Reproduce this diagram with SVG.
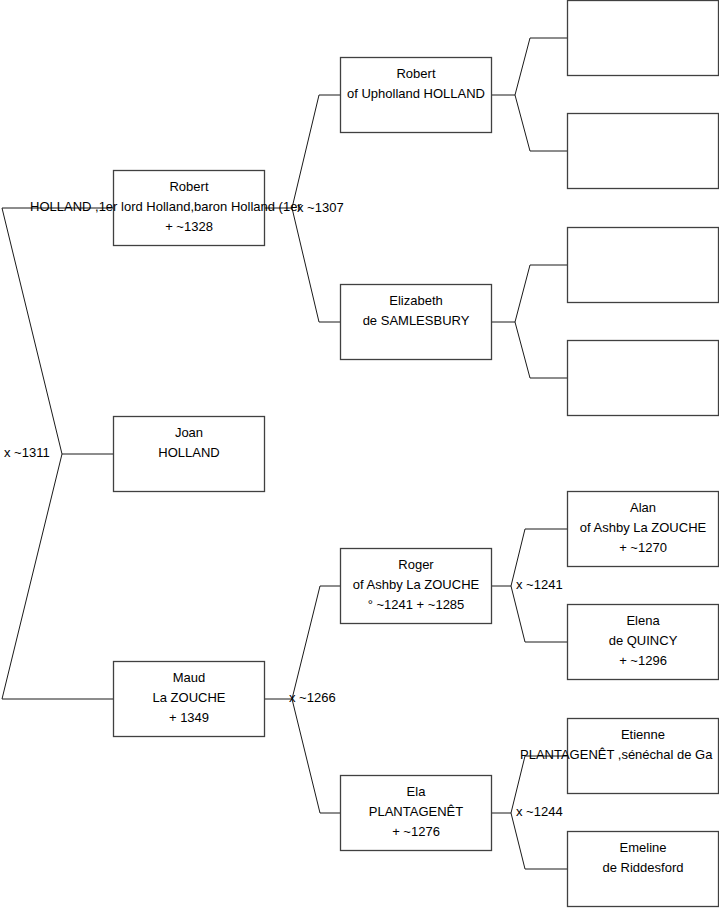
<svg xmlns="http://www.w3.org/2000/svg" width="719" height="908" viewBox="0 0 719 908">
<style>
  .box { fill: #ffffff; stroke: #404040; stroke-width: 1.3; }
  .ln { fill: none; stroke: #1a1a1a; stroke-width: 1; }
  text { font-family: "Liberation Sans", Arial, sans-serif; font-size: 13px; fill: #000000; }
  .c { text-anchor: middle; }
</style>
<rect width="719" height="908" fill="#ffffff"/>
<g id="connectors">
  <polyline class="ln" points="113.5,208 2,208 62,454 2,699 113.5,699"/>
  <line class="ln" x1="62" y1="454" x2="113.5" y2="454"/>
  <polyline class="ln" points="341,95 319,95 292,208 319,322 341,322"/>
  <line class="ln" x1="264.5" y1="208" x2="292" y2="208"/>
  <polyline class="ln" points="341,586 320,586 292,699 320,813 341,813"/>
  <line class="ln" x1="264.5" y1="699" x2="292" y2="699"/>
  <polyline class="ln" points="567.5,38 530,38 515,95 530,151 567.5,151"/>
  <line class="ln" x1="491.5" y1="95" x2="515" y2="95"/>
  <polyline class="ln" points="567.5,265 530,265 515,322 530,378 567.5,378"/>
  <line class="ln" x1="491.5" y1="322" x2="515" y2="322"/>
  <polyline class="ln" points="567.5,529 525,529 511,586 525,642 567.5,642"/>
  <line class="ln" x1="491.5" y1="586" x2="511" y2="586"/>
  <polyline class="ln" points="567.5,756 525,756 511,813 525,869 567.5,869"/>
  <line class="ln" x1="491.5" y1="813" x2="511" y2="813"/>
  <text x="4" y="457">x ~1311</text>
  <text x="297" y="212">x ~1307</text>
  <text x="289" y="702">x ~1266</text>
  <text x="516" y="589">x ~1241</text>
  <text x="516" y="816">x ~1244</text>
</g>
<g id="robert-holland">
  <rect class="box" x="113.5" y="170.5" width="151" height="75"/>
  <text class="c" x="189" y="191">Robert</text>
  <text x="30" y="211">HOLLAND ,1er lord Holland,baron Holland (1er</text>
  <text class="c" x="189" y="231">+ ~1328</text>
</g>
<g id="joan-holland">
  <rect class="box" x="113.5" y="416.5" width="151" height="75"/>
  <text class="c" x="189" y="437">Joan</text>
  <text class="c" x="189" y="457">HOLLAND</text>
</g>
<g id="maud-la-zouche">
  <rect class="box" x="113.5" y="661.5" width="151" height="75"/>
  <text class="c" x="189" y="682">Maud</text>
  <text class="c" x="189" y="702">La ZOUCHE</text>
  <text class="c" x="189" y="722">+ 1349</text>
</g>
<g id="robert-upholland">
  <rect class="box" x="340.5" y="57.5" width="151" height="75"/>
  <text class="c" x="416" y="78">Robert</text>
  <text class="c" x="416" y="98">of Upholland HOLLAND</text>
</g>
<g id="elizabeth-samlesbury">
  <rect class="box" x="340.5" y="284.5" width="151" height="75"/>
  <text class="c" x="416" y="305">Elizabeth</text>
  <text class="c" x="416" y="325">de SAMLESBURY</text>
</g>
<g id="roger-la-zouche">
  <rect class="box" x="340.5" y="548.5" width="151" height="75"/>
  <text class="c" x="416" y="569">Roger</text>
  <text class="c" x="416" y="589">of Ashby La ZOUCHE</text>
  <text class="c" x="416" y="609">° ~1241 + ~1285</text>
</g>
<g id="ela-plantagenet">
  <rect class="box" x="340.5" y="775.5" width="151" height="75"/>
  <text class="c" x="416" y="796">Ela</text>
  <text class="c" x="416" y="816">PLANTAGENÊT</text>
  <text class="c" x="416" y="836">+ ~1276</text>
</g>
<g id="empty-1"><rect class="box" x="567.5" y="0.5" width="151" height="75"/></g>
<g id="empty-2"><rect class="box" x="567.5" y="113.5" width="151" height="75"/></g>
<g id="empty-3"><rect class="box" x="567.5" y="227.5" width="151" height="75"/></g>
<g id="empty-4"><rect class="box" x="567.5" y="340.5" width="151" height="75"/></g>
<g id="alan-la-zouche">
  <rect class="box" x="567.5" y="491.5" width="151" height="75"/>
  <text class="c" x="643" y="512">Alan</text>
  <text class="c" x="643" y="532">of Ashby La ZOUCHE</text>
  <text class="c" x="643" y="552">+ ~1270</text>
</g>
<g id="elena-de-quincy">
  <rect class="box" x="567.5" y="604.5" width="151" height="75"/>
  <text class="c" x="643" y="625">Elena</text>
  <text class="c" x="643" y="645">de QUINCY</text>
  <text class="c" x="643" y="665">+ ~1296</text>
</g>
<g id="etienne-plantagenet">
  <rect class="box" x="567.5" y="718.5" width="151" height="75"/>
  <text class="c" x="643" y="739">Etienne</text>
  <text x="520" y="759">PLANTAGENÊT ,sénéchal de Ga</text>
</g>
<g id="emeline-de-riddesford">
  <rect class="box" x="567.5" y="831.5" width="151" height="75"/>
  <text class="c" x="643" y="852">Emeline</text>
  <text class="c" x="643" y="872">de Riddesford</text>
</g>
</svg>
